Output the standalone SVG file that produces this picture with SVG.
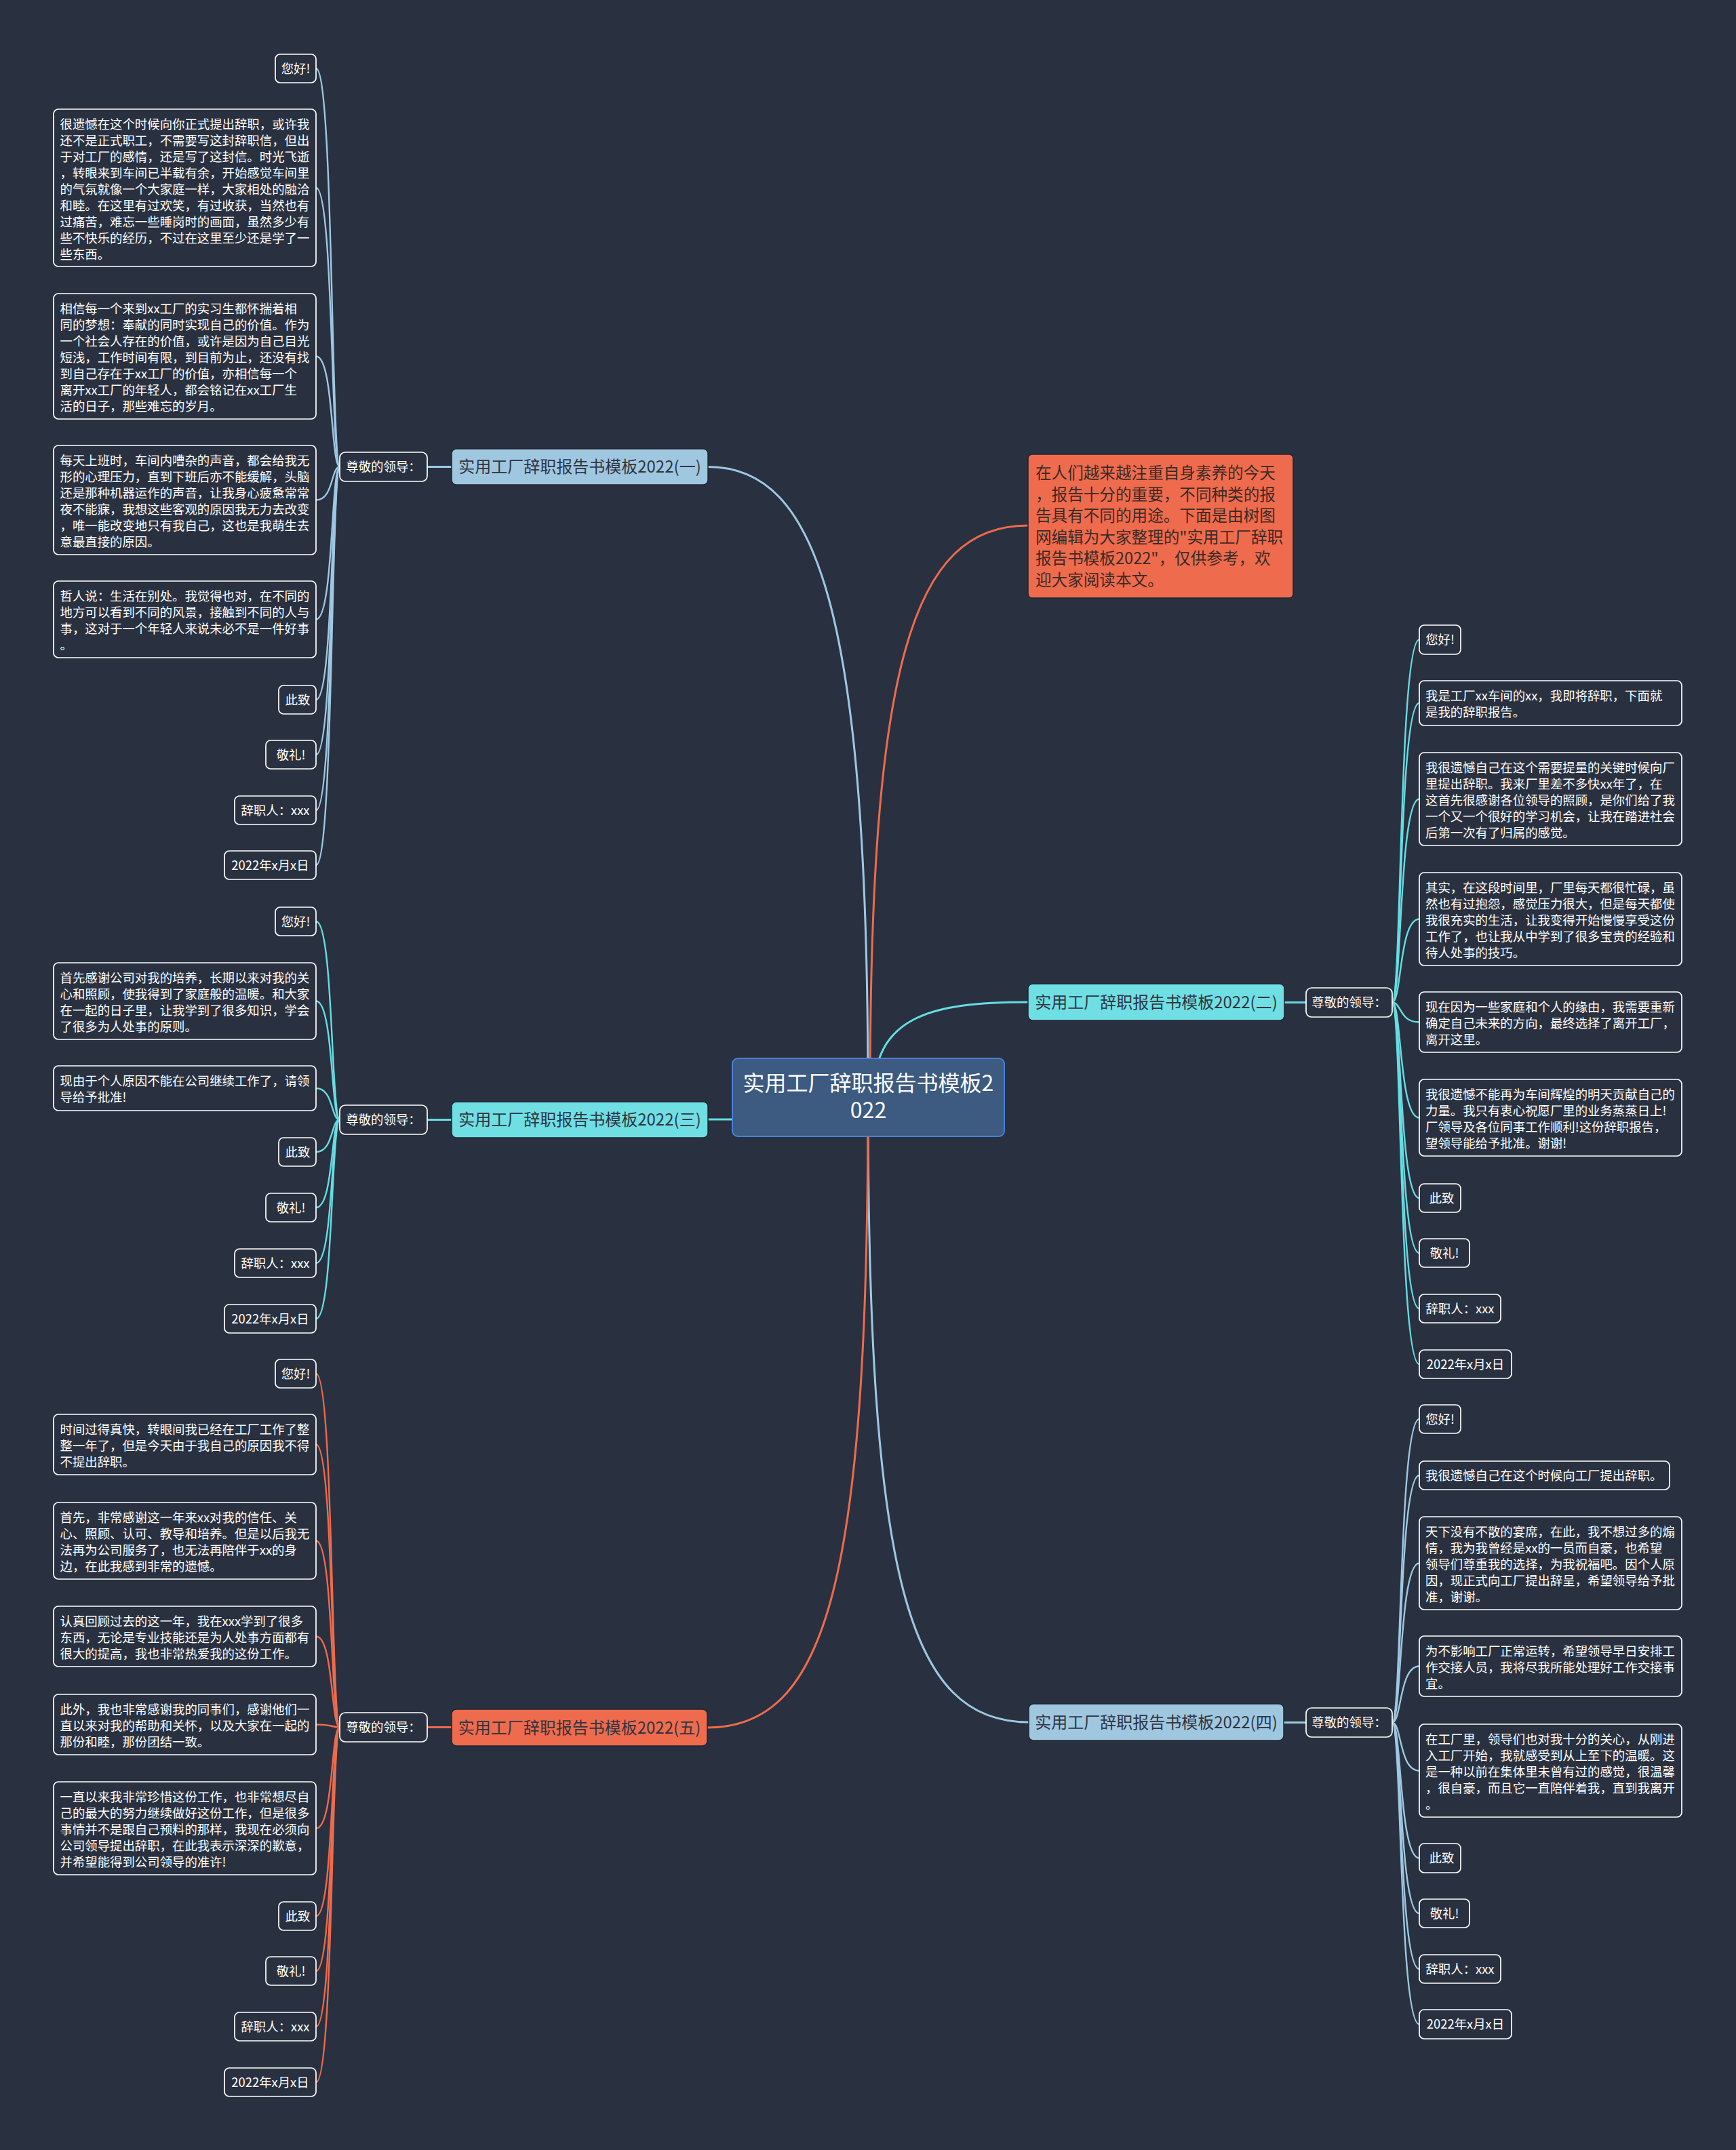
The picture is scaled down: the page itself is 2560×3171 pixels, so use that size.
<svg xmlns="http://www.w3.org/2000/svg" width="2560" height="3171" viewBox="0 0 2560 3171">
<style>
.leaf{fill:#293140;stroke:#ffffff;stroke-width:1.7}
.lt{font-family:"Noto Sans CJK SC","Noto Sans",sans-serif;font-size:18.4px;fill:#ffffff}
.mid{text-anchor:middle}
.bt{font-family:"Noto Sans CJK SC","Noto Sans",sans-serif;font-size:24px;fill:#2f3542;text-anchor:middle}
.ct{font-family:"Noto Sans CJK SC","Noto Sans",sans-serif;font-size:32px;fill:#ffffff;text-anchor:middle}
.it{font-family:"Noto Sans CJK SC","Noto Sans",sans-serif;font-size:23.6px;fill:#3a2a26}
.blue{fill:none;stroke:#9ec8e2;stroke-width:3}
.cyan{fill:none;stroke:#66dde2;stroke-width:3}
.orng{fill:none;stroke:#ee6b4d;stroke-width:3}
.thin{stroke-width:2.4}
.sub{fill:#293140;stroke:#ffffff;stroke-width:1.7}
</style>
<rect x="0" y="0" width="2560" height="3171" fill="#293140"/>

<g id="connectors">
  <path class="blue" d="M1280,1618 C1280,900 1205,688.5 1044,688.5"/>
  <path class="orng" d="M1283,1618 C1283,980 1345,775 1516,775"/>
  <path class="cyan" d="M1288,1618 C1288,1500 1370,1478 1516,1478"/>
  <path class="cyan" d="M1044,1651 L1080,1651"/>
  <path class="blue" d="M1280,1618 C1280,2330 1340,2540 1517,2540"/>
  <path class="orng" d="M1280,1618 C1280,2330 1220,2548 1043,2548"/>

  <path class="blue" d="M630,688.5 L666,688.5"/>
  <path class="cyan" d="M630,1651.5 L666,1651.5"/>
  <path class="orng" d="M630,2547.5 L666,2547.5"/>
  <path class="cyan" d="M1894,1478.5 L1926,1478.5"/>
  <path class="blue" d="M1893,2540.5 L1926,2540.5"/>

  <g class="blue thin">
    <path d="M501,688.5 C488,688.5 492,101 466,101"/>
    <path d="M501,688.5 C488,688.5 492,277 466,277"/>
    <path d="M501,688.5 C488,688.5 492,525.5 466,525.5"/>
    <path d="M501,688.5 C488,688.5 492,737.5 466,737.5"/>
    <path d="M501,688.5 C488,688.5 492,913.5 466,913.5"/>
    <path d="M501,688.5 C488,688.5 492,1032 466,1032"/>
    <path d="M501,688.5 C488,688.5 492,1113 466,1113"/>
    <path d="M501,688.5 C488,688.5 492,1195 466,1195"/>
    <path d="M501,688.5 C488,688.5 492,1276 466,1276"/>
  </g>
  <g class="cyan thin">
    <path d="M501,1651.5 C488,1651.5 492,1359 466,1359"/>
    <path d="M501,1651.5 C488,1651.5 492,1476.5 466,1476.5"/>
    <path d="M501,1651.5 C488,1651.5 492,1605 466,1605"/>
    <path d="M501,1651.5 C488,1651.5 492,1699 466,1699"/>
    <path d="M501,1651.5 C488,1651.5 492,1781 466,1781"/>
    <path d="M501,1651.5 C488,1651.5 492,1863 466,1863"/>
    <path d="M501,1651.5 C488,1651.5 492,1945 466,1945"/>
  </g>
  <g class="orng thin">
    <path d="M501,2547.5 C488,2547.5 492,2026 466,2026"/>
    <path d="M501,2547.5 C488,2547.5 492,2130.5 466,2130.5"/>
    <path d="M501,2547.5 C488,2547.5 492,2272.5 466,2272.5"/>
    <path d="M501,2547.5 C488,2547.5 492,2413.5 466,2413.5"/>
    <path d="M501,2547.5 C488,2547.5 492,2543.5 466,2543.5"/>
    <path d="M501,2547.5 C488,2547.5 492,2696.5 466,2696.5"/>
    <path d="M501,2547.5 C488,2547.5 492,2826 466,2826"/>
    <path d="M501,2547.5 C488,2547.5 492,2907 466,2907"/>
    <path d="M501,2547.5 C488,2547.5 492,2989 466,2989"/>
    <path d="M501,2547.5 C488,2547.5 492,3071 466,3071"/>
  </g>
  <g class="cyan thin">
    <path d="M2053,1478.5 C2067,1478.5 2063,943.5 2093,943.5"/>
    <path d="M2053,1478.5 C2067,1478.5 2063,1037 2093,1037"/>
    <path d="M2053,1478.5 C2067,1478.5 2063,1178.5 2093,1178.5"/>
    <path d="M2053,1478.5 C2067,1478.5 2063,1355.5 2093,1355.5"/>
    <path d="M2053,1478.5 C2067,1478.5 2063,1507.5 2093,1507.5"/>
    <path d="M2053,1478.5 C2067,1478.5 2063,1648.5 2093,1648.5"/>
    <path d="M2053,1478.5 C2067,1478.5 2063,1767 2093,1767"/>
    <path d="M2053,1478.5 C2067,1478.5 2063,1848 2093,1848"/>
    <path d="M2053,1478.5 C2067,1478.5 2063,1930 2093,1930"/>
    <path d="M2053,1478.5 C2067,1478.5 2063,2012 2093,2012"/>
  </g>
  <g class="blue thin">
    <path d="M2053,2540.5 C2067,2540.5 2063,2093 2093,2093"/>
    <path d="M2053,2540.5 C2067,2540.5 2063,2176 2093,2176"/>
    <path d="M2053,2540.5 C2067,2540.5 2063,2305.5 2093,2305.5"/>
    <path d="M2053,2540.5 C2067,2540.5 2063,2457.5 2093,2457.5"/>
    <path d="M2053,2540.5 C2067,2540.5 2063,2611.5 2093,2611.5"/>
    <path d="M2053,2540.5 C2067,2540.5 2063,2740.5 2093,2740.5"/>
    <path d="M2053,2540.5 C2067,2540.5 2063,2822 2093,2822"/>
    <path d="M2053,2540.5 C2067,2540.5 2063,2904 2093,2904"/>
    <path d="M2053,2540.5 C2067,2540.5 2063,2985.5 2093,2985.5"/>
  </g>
</g>

<g id="center">
  <rect x="1080" y="1561" width="401" height="115" rx="8" fill="#3d5a80" stroke="#4a80d8" stroke-width="2"/>
  <text class="ct"><tspan x="1280.5" y="1609">实用工厂辞职报告书模板2</tspan><tspan x="1280.5" y="1649">022</tspan></text>
</g>

<g id="intro">
  <rect x="1516" y="670" width="391" height="212" rx="6" fill="#ee6b4d" stroke="#1f2530" stroke-width="1.5"/>
  <text class="it">
    <tspan x="1527" y="706">在人们越来越注重自身素养的今天</tspan>
    <tspan x="1527" y="737.5">，报告十分的重要，不同种类的报</tspan>
    <tspan x="1527" y="769">告具有不同的用途。下面是由树图</tspan>
    <tspan x="1527" y="800.5">网编辑为大家整理的"实用工厂辞职</tspan>
    <tspan x="1527" y="832">报告书模板2022"，仅供参考，欢</tspan>
    <tspan x="1527" y="863.5">迎大家阅读本文。</tspan>
  </text>
</g>

<g id="branch1">
  <rect x="666" y="662" width="378" height="53" rx="7" fill="#a0c7e0" stroke="#1f2530" stroke-width="1.5"/>
  <text class="bt" x="855" y="697">实用工厂辞职报告书模板2022(一)</text>
</g>
<g id="branch2">
  <rect x="1516" y="1451" width="378" height="54" rx="7" fill="#6fdfe4" stroke="#1f2530" stroke-width="1.5"/>
  <text class="bt" x="1705" y="1486.5">实用工厂辞职报告书模板2022(二)</text>
</g>
<g id="branch3">
  <rect x="666" y="1625" width="378" height="53" rx="7" fill="#6fdfe4" stroke="#1f2530" stroke-width="1.5"/>
  <text class="bt" x="855" y="1660">实用工厂辞职报告书模板2022(三)</text>
</g>
<g id="branch4">
  <rect x="1517" y="2513" width="376" height="54" rx="7" fill="#a0c7e0" stroke="#1f2530" stroke-width="1.5"/>
  <text class="bt" x="1705" y="2548.5">实用工厂辞职报告书模板2022(四)</text>
</g>
<g id="branch5">
  <rect x="666" y="2521" width="377" height="54" rx="7" fill="#ee6b4d" stroke="#1f2530" stroke-width="1.5"/>
  <text class="bt" x="854.5" y="2556.5">实用工厂辞职报告书模板2022(五)</text>
</g>

<g id="sub1"><rect class="sub" x="501" y="667" width="129" height="43" rx="8"/><text class="lt mid" x="565.5" y="695">尊敬的领导：</text></g>
<g id="sub3"><rect class="sub" x="501" y="1630" width="129" height="43" rx="8"/><text class="lt mid" x="565.5" y="1658">尊敬的领导：</text></g>
<g id="sub5"><rect class="sub" x="501" y="2526" width="129" height="43" rx="8"/><text class="lt mid" x="565.5" y="2554">尊敬的领导：</text></g>
<g id="sub2"><rect class="sub" x="1926" y="1457" width="127" height="43" rx="8"/><text class="lt mid" x="1989.5" y="1485">尊敬的领导：</text></g>
<g id="sub4"><rect class="sub" x="1926" y="2519" width="127" height="43" rx="8"/><text class="lt mid" x="1989.5" y="2547">尊敬的领导：</text></g>

<!-- branch 1 leaves -->
<g id="l1a"><rect class="leaf" x="406" y="80" width="60" height="42" rx="7"/><text class="lt mid" x="436" y="108">您好!</text></g>
<g id="l1b"><rect class="leaf" x="79" y="161" width="387" height="232" rx="7"/>
<text class="lt"><tspan x="88.5" y="190">很遗憾在这个时候向你正式提出辞职，或许我</tspan><tspan x="88.5" y="214">还不是正式职工，不需要写这封辞职信，但出</tspan><tspan x="88.5" y="238">于对工厂的感情，还是写了这封信。时光飞逝</tspan><tspan x="88.5" y="262">，转眼来到车间已半载有余，开始感觉车间里</tspan><tspan x="88.5" y="286">的气氛就像一个大家庭一样，大家相处的融洽</tspan><tspan x="88.5" y="310">和睦。在这里有过欢笑，有过收获，当然也有</tspan><tspan x="88.5" y="334">过痛苦，难忘一些睡岗时的画面，虽然多少有</tspan><tspan x="88.5" y="358">些不快乐的经历，不过在这里至少还是学了一</tspan><tspan x="88.5" y="382">些东西。</tspan></text></g>
<g id="l1c"><rect class="leaf" x="79" y="433" width="387" height="185" rx="7"/>
<text class="lt"><tspan x="88.5" y="462">相信每一个来到xx工厂的实习生都怀揣着相</tspan><tspan x="88.5" y="486">同的梦想：奉献的同时实现自己的价值。作为</tspan><tspan x="88.5" y="510">一个社会人存在的价值，或许是因为自己目光</tspan><tspan x="88.5" y="534">短浅，工作时间有限，到目前为止，还没有找</tspan><tspan x="88.5" y="558">到自己存在于xx工厂的价值，亦相信每一个</tspan><tspan x="88.5" y="582">离开xx工厂的年轻人，都会铭记在xx工厂生</tspan><tspan x="88.5" y="606">活的日子，那些难忘的岁月。</tspan></text></g>
<g id="l1d"><rect class="leaf" x="79" y="657" width="387" height="161" rx="7"/>
<text class="lt"><tspan x="88.5" y="686">每天上班时，车间内嘈杂的声音，都会给我无</tspan><tspan x="88.5" y="710">形的心理压力，直到下班后亦不能缓解，头脑</tspan><tspan x="88.5" y="734">还是那种机器运作的声音，让我身心疲惫常常</tspan><tspan x="88.5" y="758">夜不能寐，我想这些客观的原因我无力去改变</tspan><tspan x="88.5" y="782">，唯一能改变地只有我自己，这也是我萌生去</tspan><tspan x="88.5" y="806">意最直接的原因。</tspan></text></g>
<g id="l1e"><rect class="leaf" x="79" y="857" width="387" height="113" rx="7"/>
<text class="lt"><tspan x="88.5" y="886">哲人说：生活在别处。我觉得也对，在不同的</tspan><tspan x="88.5" y="910">地方可以看到不同的风景，接触到不同的人与</tspan><tspan x="88.5" y="934">事，这对于一个年轻人来说未必不是一件好事</tspan><tspan x="88.5" y="958">。</tspan></text></g>
<g id="l1f"><rect class="leaf" x="411" y="1011" width="55" height="42" rx="7"/><text class="lt mid" x="439" y="1039">此致</text></g>
<g id="l1g"><rect class="leaf" x="392" y="1092" width="74" height="42" rx="7"/><text class="lt mid" x="429" y="1120">敬礼!</text></g>
<g id="l1h"><rect class="leaf" x="346" y="1174" width="120" height="42" rx="7"/><text class="lt mid" x="406" y="1202">辞职人：xxx</text></g>
<g id="l1i"><rect class="leaf" x="331" y="1255" width="135" height="42" rx="7"/><text class="lt mid" x="398.5" y="1283">2022年x月x日</text></g>

<!-- branch 3 leaves -->
<g id="l3a"><rect class="leaf" x="406" y="1338" width="60" height="42" rx="7"/><text class="lt mid" x="436" y="1366">您好!</text></g>
<g id="l3b"><rect class="leaf" x="79" y="1420" width="387" height="113" rx="7"/>
<text class="lt"><tspan x="88.5" y="1449">首先感谢公司对我的培养，长期以来对我的关</tspan><tspan x="88.5" y="1473">心和照顾，使我得到了家庭般的温暖。和大家</tspan><tspan x="88.5" y="1497">在一起的日子里，让我学到了很多知识，学会</tspan><tspan x="88.5" y="1521">了很多为人处事的原则。</tspan></text></g>
<g id="l3c"><rect class="leaf" x="79" y="1572" width="387" height="66" rx="7"/>
<text class="lt"><tspan x="88.5" y="1601">现由于个人原因不能在公司继续工作了，请领</tspan><tspan x="88.5" y="1625">导给予批准!</tspan></text></g>
<g id="l3d"><rect class="leaf" x="411" y="1678" width="55" height="42" rx="7"/><text class="lt mid" x="439" y="1706">此致</text></g>
<g id="l3e"><rect class="leaf" x="392" y="1760" width="74" height="42" rx="7"/><text class="lt mid" x="429" y="1788">敬礼!</text></g>
<g id="l3f"><rect class="leaf" x="346" y="1842" width="120" height="42" rx="7"/><text class="lt mid" x="406" y="1870">辞职人：xxx</text></g>
<g id="l3g"><rect class="leaf" x="331" y="1924" width="135" height="42" rx="7"/><text class="lt mid" x="398.5" y="1952">2022年x月x日</text></g>

<!-- branch 5 leaves -->
<g id="l5a"><rect class="leaf" x="406" y="2005" width="60" height="42" rx="7"/><text class="lt mid" x="436" y="2033">您好!</text></g>
<g id="l5b"><rect class="leaf" x="79" y="2086" width="387" height="89" rx="7"/>
<text class="lt"><tspan x="88.5" y="2115">时间过得真快，转眼间我已经在工厂工作了整</tspan><tspan x="88.5" y="2139">整一年了，但是今天由于我自己的原因我不得</tspan><tspan x="88.5" y="2163">不提出辞职。</tspan></text></g>
<g id="l5c"><rect class="leaf" x="79" y="2216" width="387" height="113" rx="7"/>
<text class="lt"><tspan x="88.5" y="2245">首先，非常感谢这一年来xx对我的信任、关</tspan><tspan x="88.5" y="2269">心、照顾、认可、教导和培养。但是以后我无</tspan><tspan x="88.5" y="2293">法再为公司服务了，也无法再陪伴于xx的身</tspan><tspan x="88.5" y="2317">边，在此我感到非常的遗憾。</tspan></text></g>
<g id="l5d"><rect class="leaf" x="79" y="2369" width="387" height="89" rx="7"/>
<text class="lt"><tspan x="88.5" y="2398">认真回顾过去的这一年，我在xxx学到了很多</tspan><tspan x="88.5" y="2422">东西，无论是专业技能还是为人处事方面都有</tspan><tspan x="88.5" y="2446">很大的提高，我也非常热爱我的这份工作。</tspan></text></g>
<g id="l5e"><rect class="leaf" x="79" y="2499" width="387" height="89" rx="7"/>
<text class="lt"><tspan x="88.5" y="2528">此外，我也非常感谢我的同事们，感谢他们一</tspan><tspan x="88.5" y="2552">直以来对我的帮助和关怀，以及大家在一起的</tspan><tspan x="88.5" y="2576">那份和睦，那份团结一致。</tspan></text></g>
<g id="l5f"><rect class="leaf" x="79" y="2628" width="387" height="137" rx="7"/>
<text class="lt"><tspan x="88.5" y="2657">一直以来我非常珍惜这份工作，也非常想尽自</tspan><tspan x="88.5" y="2681">己的最大的努力继续做好这份工作，但是很多</tspan><tspan x="88.5" y="2705">事情并不是跟自己预料的那样，我现在必须向</tspan><tspan x="88.5" y="2729">公司领导提出辞职，在此我表示深深的歉意，</tspan><tspan x="88.5" y="2753">并希望能得到公司领导的准许!</tspan></text></g>
<g id="l5g"><rect class="leaf" x="411" y="2805" width="55" height="42" rx="7"/><text class="lt mid" x="439" y="2833">此致</text></g>
<g id="l5h"><rect class="leaf" x="392" y="2886" width="74" height="42" rx="7"/><text class="lt mid" x="429" y="2914">敬礼!</text></g>
<g id="l5i"><rect class="leaf" x="346" y="2968" width="120" height="42" rx="7"/><text class="lt mid" x="406" y="2996">辞职人：xxx</text></g>
<g id="l5j"><rect class="leaf" x="331" y="3050" width="135" height="42" rx="7"/><text class="lt mid" x="398.5" y="3078">2022年x月x日</text></g>

<!-- branch 2 leaves -->
<g id="r2a"><rect class="leaf" x="2093" y="922" width="61" height="43" rx="7"/><text class="lt mid" x="2123.5" y="950">您好!</text></g>
<g id="r2b"><rect class="leaf" x="2093" y="1004" width="387" height="66" rx="7"/>
<text class="lt"><tspan x="2102" y="1033">我是工厂xx车间的xx，我即将辞职，下面就</tspan><tspan x="2102" y="1057">是我的辞职报告。</tspan></text></g>
<g id="r2c"><rect class="leaf" x="2093" y="1110" width="387" height="137" rx="7"/>
<text class="lt"><tspan x="2102" y="1139">我很遗憾自己在这个需要提量的关键时候向厂</tspan><tspan x="2102" y="1163">里提出辞职。我来厂里差不多快xx年了，在</tspan><tspan x="2102" y="1187">这首先很感谢各位领导的照顾，是你们给了我</tspan><tspan x="2102" y="1211">一个又一个很好的学习机会，让我在踏进社会</tspan><tspan x="2102" y="1235">后第一次有了归属的感觉。</tspan></text></g>
<g id="r2d"><rect class="leaf" x="2093" y="1287" width="387" height="137" rx="7"/>
<text class="lt"><tspan x="2102" y="1316">其实，在这段时间里，厂里每天都很忙碌，虽</tspan><tspan x="2102" y="1340">然也有过抱怨，感觉压力很大，但是每天都使</tspan><tspan x="2102" y="1364">我很充实的生活，让我变得开始慢慢享受这份</tspan><tspan x="2102" y="1388">工作了，也让我从中学到了很多宝贵的经验和</tspan><tspan x="2102" y="1412">待人处事的技巧。</tspan></text></g>
<g id="r2e"><rect class="leaf" x="2093" y="1463" width="387" height="89" rx="7"/>
<text class="lt"><tspan x="2102" y="1492">现在因为一些家庭和个人的缘由，我需要重新</tspan><tspan x="2102" y="1516">确定自己未来的方向，最终选择了离开工厂，</tspan><tspan x="2102" y="1540">离开这里。</tspan></text></g>
<g id="r2f"><rect class="leaf" x="2093" y="1592" width="387" height="113" rx="7"/>
<text class="lt"><tspan x="2102" y="1621">我很遗憾不能再为车间辉煌的明天贡献自己的</tspan><tspan x="2102" y="1645">力量。我只有衷心祝愿厂里的业务蒸蒸日上!</tspan><tspan x="2102" y="1669">厂领导及各位同事工作顺利!这份辞职报告，</tspan><tspan x="2102" y="1693">望领导能给予批准。谢谢!</tspan></text></g>
<g id="r2g"><rect class="leaf" x="2093" y="1746" width="61" height="42" rx="7"/><text class="lt mid" x="2126" y="1774">此致</text></g>
<g id="r2h"><rect class="leaf" x="2093" y="1827" width="74" height="42" rx="7"/><text class="lt mid" x="2130" y="1855">敬礼!</text></g>
<g id="r2i"><rect class="leaf" x="2093" y="1909" width="120" height="42" rx="7"/><text class="lt mid" x="2153" y="1937">辞职人：xxx</text></g>
<g id="r2j"><rect class="leaf" x="2093" y="1991" width="136" height="42" rx="7"/><text class="lt mid" x="2161" y="2019">2022年x月x日</text></g>

<!-- branch 4 leaves -->
<g id="r4a"><rect class="leaf" x="2093" y="2072" width="61" height="42" rx="7"/><text class="lt mid" x="2123.5" y="2100">您好!</text></g>
<g id="r4b"><rect class="leaf" x="2093" y="2155" width="369" height="42" rx="7"/><text class="lt" x="2102" y="2183">我很遗憾自己在这个时候向工厂提出辞职。</text></g>
<g id="r4c"><rect class="leaf" x="2093" y="2237" width="387" height="137" rx="7"/>
<text class="lt"><tspan x="2102" y="2266">天下没有不散的宴席，在此，我不想过多的煽</tspan><tspan x="2102" y="2290">情，我为我曾经是xx的一员而自豪，也希望</tspan><tspan x="2102" y="2314">领导们尊重我的选择，为我祝福吧。因个人原</tspan><tspan x="2102" y="2338">因，现正式向工厂提出辞呈，希望领导给予批</tspan><tspan x="2102" y="2362">准，谢谢。</tspan></text></g>
<g id="r4d"><rect class="leaf" x="2093" y="2413" width="387" height="89" rx="7"/>
<text class="lt"><tspan x="2102" y="2442">为不影响工厂正常运转，希望领导早日安排工</tspan><tspan x="2102" y="2466">作交接人员，我将尽我所能处理好工作交接事</tspan><tspan x="2102" y="2490">宜。</tspan></text></g>
<g id="r4e"><rect class="leaf" x="2093" y="2543" width="387" height="137" rx="7"/>
<text class="lt"><tspan x="2102" y="2572">在工厂里，领导们也对我十分的关心，从刚进</tspan><tspan x="2102" y="2596">入工厂开始，我就感受到从上至下的温暖。这</tspan><tspan x="2102" y="2620">是一种以前在集体里未曾有过的感觉，很温馨</tspan><tspan x="2102" y="2644">，很自豪，而且它一直陪伴着我，直到我离开</tspan><tspan x="2102" y="2668">。</tspan></text></g>
<g id="r4f"><rect class="leaf" x="2093" y="2719" width="61" height="43" rx="7"/><text class="lt mid" x="2126" y="2747">此致</text></g>
<g id="r4g"><rect class="leaf" x="2093" y="2801" width="74" height="42" rx="7"/><text class="lt mid" x="2130" y="2829">敬礼!</text></g>
<g id="r4h"><rect class="leaf" x="2093" y="2883" width="120" height="42" rx="7"/><text class="lt mid" x="2153" y="2911">辞职人：xxx</text></g>
<g id="r4i"><rect class="leaf" x="2093" y="2964" width="136" height="43" rx="7"/><text class="lt mid" x="2161" y="2992">2022年x月x日</text></g>
</svg>
